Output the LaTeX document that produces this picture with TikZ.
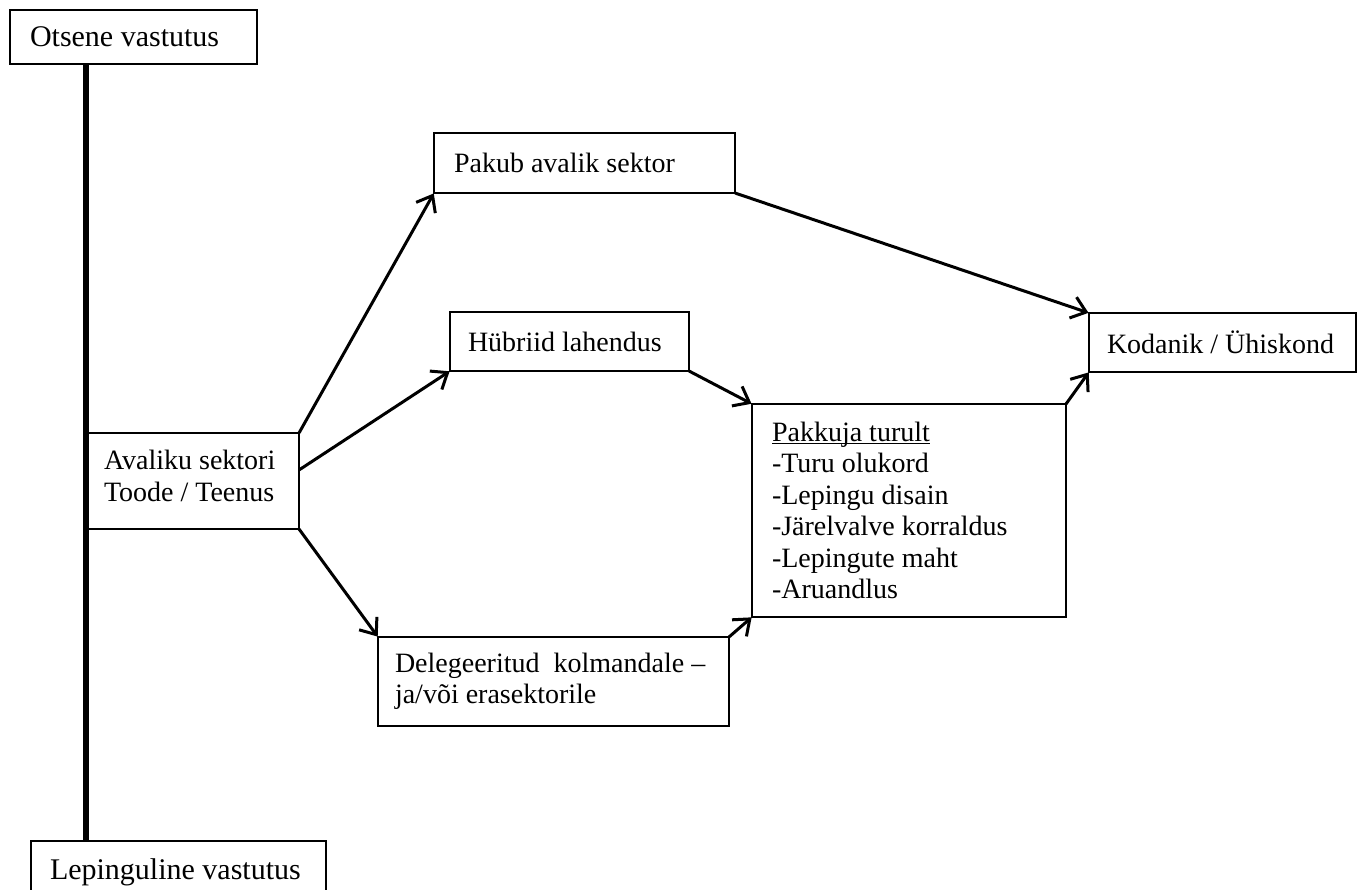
\documentclass[tikz,border=0pt]{standalone}
\usepackage{fontspec}
\setmainfont{Liberation Serif}
\usetikzlibrary{arrows.meta}
\begin{document}
\begin{tikzpicture}[x=1pt,y=-1pt,
  box/.style={draw, line width=2.2pt, anchor=north west, align=flush left, inner ysep=0pt, outer sep=0pt,
    font=\fontsize{28}{31.5}\selectfont},
  bigtext/.style={font=\fontsize{30}{33}\selectfont},
  conn/.style={line width=3pt, -{Straight Barb[length=14pt,width=22pt,line width=3pt]}, shorten >=0.5pt}]
\useasboundingbox (0,0) rectangle (1362,890);
\node[box, bigtext, inner xsep=20pt, text width=207pt, minimum width=247pt, minimum height=54pt] (ots) at (10,10) {\mbox{Otsene vastutus}};
\node[box, bigtext, inner xsep=19pt, text width=257pt, minimum width=295pt, minimum height=62pt] (lep) at (31,841) {\mbox{Lepinguline vastutus}};
\node[box, inner xsep=20pt, text width=261pt, minimum width=301pt, minimum height=60pt] (pak) at (434,133) {\mbox{Pakub avalik sektor}};
\node[box, inner xsep=18pt, text width=203pt, minimum width=239pt, minimum height=59pt] (hyb) at (450,312) {\mbox{Hübriid lahendus}};
\node[box, inner xsep=18pt, text width=231pt, minimum width=267pt, minimum height=59pt] (kod) at (1089,313) {\mbox{Kodanik / Ühiskond}};
\node[box, inner xsep=18pt, text width=177pt, minimum width=213pt, minimum height=96pt] (av) at (86,433) {\mbox{Avaliku sektori}\\\mbox{Toode / Teenus}\\[-21pt]\mbox{}};
\node[box, inner xsep=20pt, text width=274pt, minimum width=314pt, minimum height=213pt] (pk) at (752,404)
  {\underline{\smash{Pakkuja turult}}\vphantom{Pakkuja turult}\\-Turu olukord\\-Lepingu disain\\\mbox{-Järelvalve korraldus}\\-Lepingute maht\\-Aruandlus};
\node[box, inner xsep=17pt, text width=317pt, minimum width=351pt, minimum height=89pt] (del) at (378,637)
  {\mbox{Delegeeritud\hspace{0.5em}kolmandale –}\\\mbox{ja/või erasektorile}};
\draw[line width=6pt] (ots.south -| av.west) -- (lep.north -| av.west);
\draw[conn] (av.north east) -- (pak.south west);
\draw[conn] ([yshift=11pt]av.east) -- (hyb.south west);
\draw[conn] (av.south east) -- (del.north west);
\draw[conn] (pak.south east) -- (kod.north west);
\draw[conn] (hyb.south east) -- (pk.north west);
\draw[conn] (del.north east) -- (pk.south west);
\draw[conn] (pk.north east) -- (kod.south west);
\end{tikzpicture}
\end{document}
